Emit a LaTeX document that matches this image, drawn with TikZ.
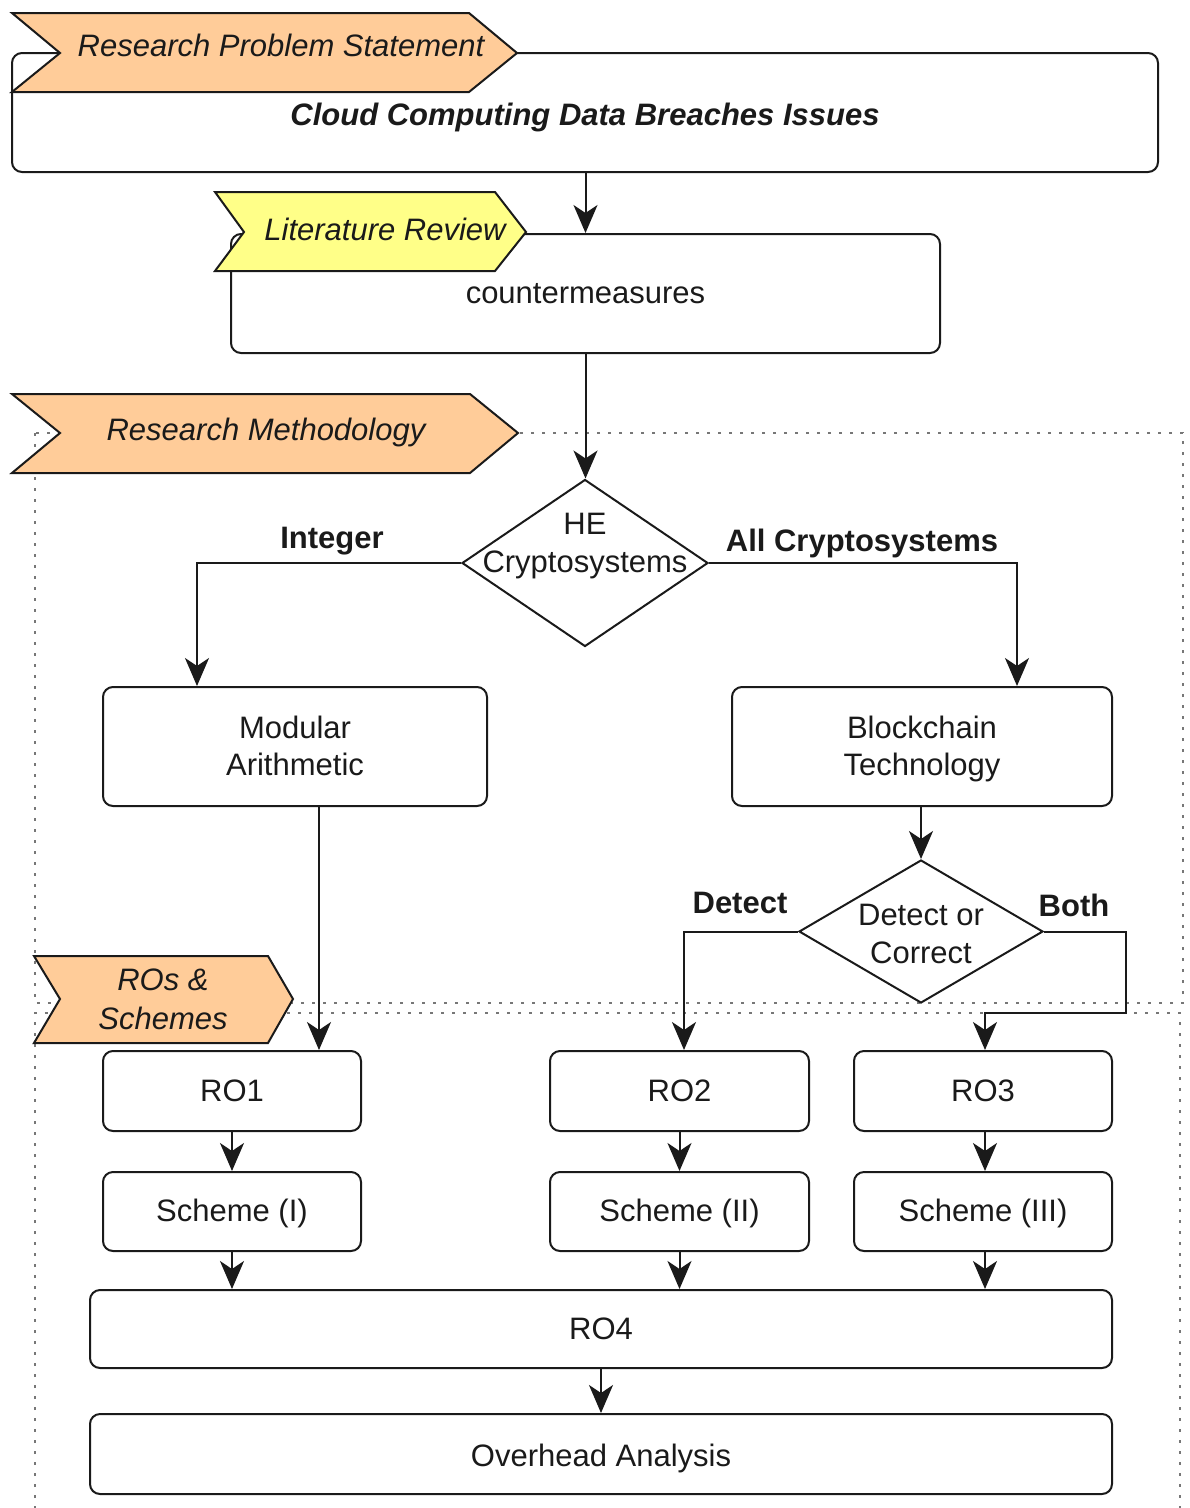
\documentclass[tikz,border=0pt]{standalone}
\usepackage{fontspec}
\setmainfont{Liberation Sans}
\usetikzlibrary{arrows.meta,shapes.geometric}
\definecolor{tagorange}{HTML}{FFCC99}
\definecolor{tagyellow}{HTML}{FFFF88}
\definecolor{txt}{HTML}{1A1A1A}
\definecolor{dotgray}{HTML}{777777}
\newcommand{\lowerby}[2]{\raisebox{-#1}[\height][\depth]{#2}}
\begin{document}
\begin{tikzpicture}[x=1pt,y=-1pt,
  box/.style={draw=txt, line width=2pt, rounded corners=10pt, fill=white, inner sep=0pt,
    font=\fontsize{31}{37}\selectfont, align=center, text=txt},
  dia/.style={draw=txt, line width=2pt, diamond, fill=white, inner sep=0pt},
  txtnode/.style={inner sep=0pt, font=\fontsize{31}{38}\selectfont, align=center, text=txt},
  lbl/.style={inner sep=0pt, font=\fontsize{31}{37}\selectfont\bfseries, text=txt},
  tagtext/.style={inner sep=0pt, font=\fontsize{31}{39}\selectfont\itshape, align=center, text=txt},
  tagshape/.style={draw=txt, line width=2pt, line join=miter},
  conn/.style={draw=txt, line width=2pt, -{Stealth[length=28pt,width=24pt,inset=8pt]}},
  container/.style={draw=dotgray, line width=2.6pt, dash pattern=on 2.6pt off 8.4pt}]
\useasboundingbox (0,0) rectangle (1190,1508);

% containers
\draw[container] (35,433) rectangle (1183,1003);
\draw[container] (35,1520) -- (35,1013) -- (1180,1013) -- (1180,1520);

% boxes
\node[box, minimum width=1146pt, minimum height=119pt] (cloud) at (585,112.5)
  {\lowerby{5pt}{\bfseries\itshape Cloud Computing Data Breaches Issues}};
\node[box, minimum width=709pt, minimum height=119pt] (counter) at (585.5,293.5) {countermeasures};
\node[dia, minimum width=246pt, minimum height=167pt] (he) at (585,563) {};
\node[txtnode] (hetext) at (585,546) {HE\\Cryptosystems};
\node[box, minimum width=384pt, minimum height=119pt] (mod) at (295,746.5) {\lowerby{3pt}{\begin{tabular}{@{}c@{}}Modular\\Arithmetic\end{tabular}}};
\node[box, minimum width=380pt, minimum height=119pt] (bc) at (922,746.5) {\lowerby{3pt}{\begin{tabular}{@{}c@{}}Blockchain\\Technology\end{tabular}}};
\node[dia, minimum width=244pt, minimum height=143pt] (dc) at (921,931.5) {};
\node[txtnode] (dctext) at (921,934) {Detect or\\Correct};
\node[box, minimum width=258pt, minimum height=80pt] (ro1) at (232,1091) {RO1};
\node[box, minimum width=259pt, minimum height=80pt] (ro2) at (679.5,1091) {RO2};
\node[box, minimum width=258pt, minimum height=80pt] (ro3) at (983,1091) {RO3};
\node[box, minimum width=258pt, minimum height=79pt] (s1) at (232,1211.5) {\lowerby{2pt}{Scheme (I)}};
\node[box, minimum width=259pt, minimum height=79pt] (s2) at (679.5,1211.5) {\lowerby{2pt}{Scheme (II)}};
\node[box, minimum width=258pt, minimum height=79pt] (s3) at (983,1211.5) {\lowerby{2pt}{Scheme (III)}};
\node[box, minimum width=1022pt, minimum height=78pt] (ro4) at (601,1329) {RO4};
\node[box, minimum width=1022pt, minimum height=80pt] (oh) at (601,1454) {\lowerby{4pt}{Overhead Analysis}};

% tags
\draw[tagshape, fill=tagorange] (12,13) -- (469,13) -- (517,53) -- (469,92) -- (12,92) -- (60,53) -- cycle;
\node[tagtext] (t1) at (281,45) {Research Problem Statement};
\draw[tagshape, fill=tagyellow] (215,192) -- (495,192) -- (526,232) -- (495,271) -- (215,271) -- (244,232) -- cycle;
\node[tagtext] (t2) at (385,229) {Literature Review};
\draw[tagshape, fill=tagorange] (12,394) -- (470,394) -- (518,433) -- (470,473) -- (12,473) -- (60,433) -- cycle;
\node[tagtext] (t3) at (266,432) {Research Methodology};
\draw[tagshape, fill=tagorange] (34,956) -- (268,956) -- (293,999) -- (268,1043) -- (34,1043) -- (60,999) -- cycle;
\node[tagtext] (t4) at (163,999) {ROs \&\\Schemes};

% connectors
\draw[conn] (cloud.south -| counter.north) -- (counter.north);
\draw[conn] (counter.south) -- (counter.south |- he.north);
\draw[conn] (he.west) -| ([xshift=-98pt]mod.north);
\draw[conn] (he.east) -| ([xshift=95pt]bc.north);
\draw[conn] (bc.south -| dc.north) -- (dc.north);
\draw[conn] (dc.west) -| ([xshift=4.5pt]ro2.north);
\coordinate (bend) at (1126,1013);
\draw[conn] (dc.east) -| (bend) -| ([xshift=2pt]ro3.north);
\draw[conn] ([xshift=24pt]mod.south) -- ([xshift=24pt]mod.south |- ro1.north);
\draw[conn] (ro1.south) -- (s1.north);
\draw[conn] (ro2.south) -- (s2.north);
\draw[conn] ([xshift=2pt]ro3.south) -- ([xshift=2pt]s3.north);
\draw[conn] (s1.south) -- (s1.south |- ro4.north);
\draw[conn] (s2.south) -- (s2.south |- ro4.north);
\draw[conn] ([xshift=2pt]s3.south) -- ([xshift=2pt]s3.south |- ro4.north);
\draw[conn] (ro4.south) -- (oh.north);

% labels
\node[lbl] (lint) at (332,541) {Integer};
\node[lbl] (lall) at (862,543) {All Cryptosystems};
\node[lbl] (ldet) at (740,903) {Detect};
\node[lbl] (lboth) at (1074,905) {Both};
\end{tikzpicture}
\end{document}
